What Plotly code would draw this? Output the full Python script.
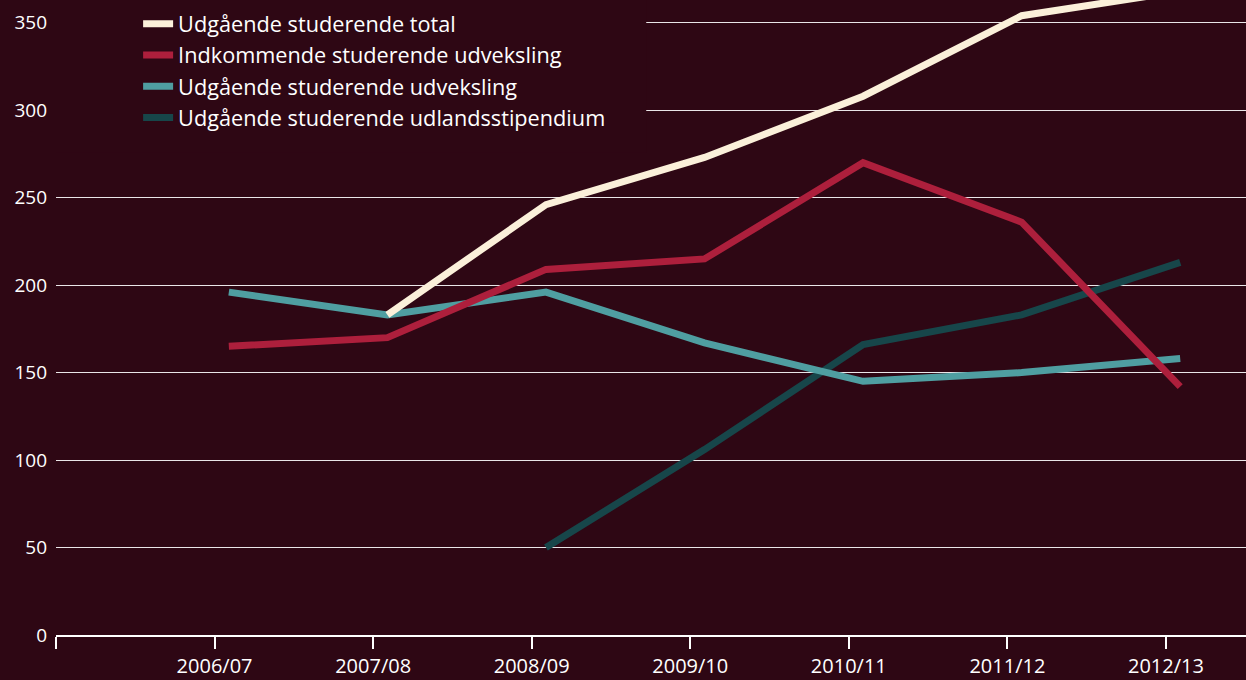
import plotly.graph_objects as go

# ---- data ----
seasons = ["2006/07", "2007/08", "2008/09", "2009/10", "2010/11", "2011/12", "2012/13"]
udg_total = [None, 183, 246, 273, 308, 354, 368]
indk_udveksling = [165, 170, 209, 215, 270, 236, 142]
udg_udveksling = [196, 183, 196, 167, 145, 150, 158]
udg_stipendium = [None, None, 50, 106, 166, 183, 213]

series_names = [
    "Udgående studerende total",
    "Indkommende studerende udveksling",
    "Udgående studerende udveksling",
    "Udgående studerende udlandsstipendium",
]
y_ticks = [0, 50, 100, 150, 200, 250, 300, 350]

# ---- style ----
BG = "#2e0714"
colors = ["#fbf0da", "#ad1f3c", "#4f9ea1", "#17464a"]
FONT = "Open Sans"
X_OFFSET = 0.09  # points sit slightly right of their tick

xpos = [i + 1 + X_OFFSET for i in range(len(seasons))]
data = [udg_total, indk_udveksling, udg_udveksling, udg_stipendium]

fig = go.Figure()
for k in [3, 2, 1, 0]:  # total drawn on top
    fig.add_trace(go.Scatter(
        x=xpos, y=data[k], mode="lines", name=series_names[k],
        line=dict(color=colors[k], width=7),
        legendrank=k + 1, legendgroup=str(k),
        connectgaps=False, hoverinfo="skip",
    ))

fig.update_layout(
    width=1246, height=680,
    paper_bgcolor=BG, plot_bgcolor=BG,
    margin=dict(l=56, r=0, t=0, b=45, autoexpand=False),
    font=dict(family=FONT, color="#ffffff", size=19),
    showlegend=True,
    legend=dict(
        x=0.069, y=0.995, xanchor="left", yanchor="top",
        bgcolor=BG, font=dict(size=21.7, color="#ffffff", family=FONT),
        tracegroupgap=11, traceorder="normal",
    ),
    shapes=[dict(type="rect", xref="paper", yref="paper", x0=0, x1=0.496,
                 y0=0.76, y1=1.0, fillcolor=BG, line=dict(width=0), layer="above")],
)

fig.update_xaxes(
    range=[0, 7.505], tickmode="array",
    tickvals=list(range(0, len(seasons) + 1)),
    ticktext=[""] + seasons,
    showgrid=False, zeroline=False, automargin=False,
    showline=True, linecolor="#ffffff", linewidth=1.5,
    ticks="outside", ticklen=12, tickcolor="#ffffff", tickwidth=1.5,
    tickfont=dict(size=20, color="#ffffff"),
)
fig.update_yaxes(
    range=[0, 363], tickmode="array", tickvals=y_ticks,
    showgrid=True, gridcolor="rgba(255,255,255,0.9)", gridwidth=1,
    zeroline=False, showline=False, ticks="", ticklabelstandoff=8,
    automargin=False,
    tickfont=dict(size=19, color="#ffffff"),
)

fig.write_html(
    "out.html",
    config={"displayModeBar": False},
    post_script="document.body.style.margin='0';document.body.style.background='" + BG + "';",
)
